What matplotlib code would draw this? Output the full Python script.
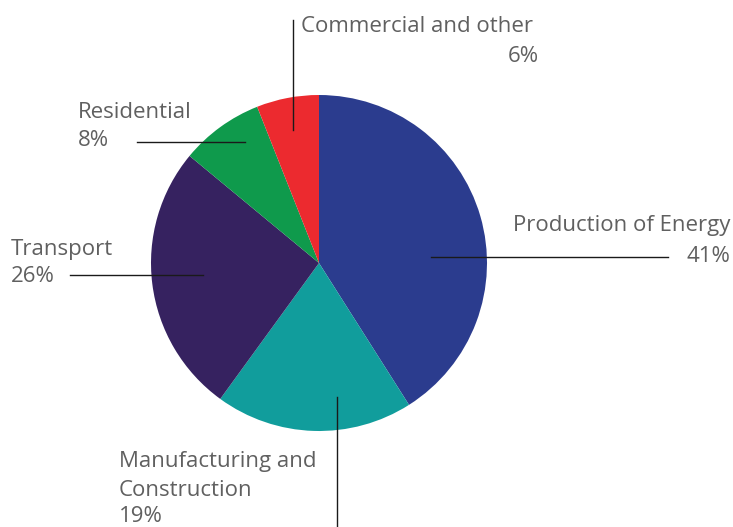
import matplotlib
matplotlib.use("Agg")
import matplotlib.pyplot as plt

categories = ["Production of Energy", "Manufacturing and\nConstruction", "Transport",
              "Residential", "Commercial and other"]
values = [41, 19, 26, 8, 6]
colors = ["#2b3c8e", "#119d9c", "#362260", "#0f9a4c", "#ec2a2f"]

W, H = 733, 527
fig = plt.figure(figsize=(W / 100, H / 100), dpi=100)
ax = fig.add_axes([0, 0, 1, 1])

cx, cy, r = 319, H - 263, 168
ax.pie(values, colors=colors, startangle=90, counterclock=False,
       center=(cx, cy), radius=r, frame=True,
       wedgeprops=dict(linewidth=0))
ax.set_xlim(0, W)
ax.set_ylim(0, H)
ax.set_aspect("equal")
ax.axis("off")

tc = "#606060"
fs = 16
fam = ["Open Sans", "DejaVu Sans"]
lc = "#1a1a1a"
lw = 1.0

def Y(p):
    return H - p

# Commercial and other
ax.plot([293, 293], [Y(20), Y(130)], color=lc, lw=lw)
ax.text(301, Y(27), "Commercial and other", fontsize=fs, color=tc, family=fam, va="center", ha="left")
ax.text(539, Y(57), f"{values[4]}%", fontsize=fs, color=tc, family=fam, va="center", ha="right")

# Residential
ax.plot([137, 245], [Y(142), Y(142)], color=lc, lw=lw)
ax.text(78, Y(112), "Residential", fontsize=fs, color=tc, family=fam, va="center", ha="left")
ax.text(78, Y(140), f"{values[3]}%", fontsize=fs, color=tc, family=fam, va="center", ha="left")

# Transport
ax.plot([70, 203], [Y(275), Y(275)], color=lc, lw=lw)
ax.text(11, Y(249), "Transport", fontsize=fs, color=tc, family=fam, va="center", ha="left")
ax.text(11, Y(276), f"{values[2]}%", fontsize=fs, color=tc, family=fam, va="center", ha="left")

# Production of Energy
ax.plot([431, 668], [Y(257), Y(257)], color=lc, lw=lw)
ax.text(730, Y(225), "Production of Energy", fontsize=fs, color=tc, family=fam, va="center", ha="right")
ax.text(730, Y(256), f"{values[0]}%", fontsize=fs, color=tc, family=fam, va="center", ha="right")

# Manufacturing and Construction
ax.plot([337, 337], [Y(397), Y(527)], color=lc, lw=lw)
ax.text(119, Y(462), "Manufacturing and", fontsize=fs, color=tc, family=fam, va="center", ha="left")
ax.text(119, Y(490), "Construction", fontsize=fs, color=tc, family=fam, va="center", ha="left")
ax.text(119, Y(516), f"{values[1]}%", fontsize=fs, color=tc, family=fam, va="center", ha="left")

fig.savefig("out.png", dpi=100)
